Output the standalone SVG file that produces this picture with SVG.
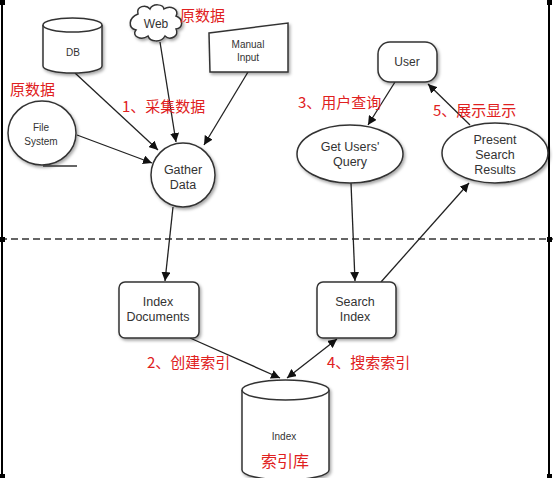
<svg xmlns="http://www.w3.org/2000/svg" width="553" height="478" viewBox="0 0 553 478">
<style>
.s{fill:#fff;stroke:#333;stroke-width:1.5}
.t{font-family:"Liberation Sans",Arial,sans-serif;fill:#333;text-anchor:middle}
.r{font-family:"Noto Sans CJK SC",sans-serif;fill:#e02020;font-size:15px}
.c{stroke:#222;stroke-width:1.3;fill:none}
</style>
<defs>
<filter id="sh" x="-20%" y="-20%" width="150%" height="150%"><feDropShadow dx="1.5" dy="2" stdDeviation="1.5" flood-color="#000" flood-opacity="0.35"/></filter>
<marker id="a" viewBox="0 0 10 10" refX="10" refY="5" markerWidth="9" markerHeight="9" orient="auto-start-reverse" markerUnits="userSpaceOnUse"><path d="M0,0L10,5L0,10z" fill="#111"/></marker>
</defs>
<g id="frame" stroke="#000">
<line x1="2" y1="0" x2="2" y2="478" stroke-width="2"/>
<line x1="549" y1="0" x2="549" y2="478" stroke-width="2"/>
<line x1="0" y1="239" x2="553" y2="239" stroke-width="1.5" stroke-dasharray="7,4" stroke="#333"/>
<g fill="#000" stroke="none">
<rect x="0" y="0" width="5" height="5"/><rect x="547" y="0" width="5" height="5"/>
<rect x="0" y="237" width="5" height="5"/><rect x="547" y="237" width="5" height="5"/>
<rect x="0" y="474" width="5" height="4"/><rect x="274" y="474" width="5" height="4"/><rect x="547" y="474" width="5" height="4"/>
</g>
</g>
<g id="connectors">
<line class="c" x1="75" y1="73" x2="158" y2="150" marker-end="url(#a)"/>
<line class="c" x1="160" y1="42" x2="176" y2="142" marker-end="url(#a)"/>
<line class="c" x1="248" y1="72" x2="204" y2="145" marker-end="url(#a)"/>
<line class="c" x1="77" y1="135" x2="152" y2="163" marker-end="url(#a)"/>
<line class="c" x1="173" y1="207" x2="165" y2="281" marker-end="url(#a)"/>
<line class="c" x1="190" y1="338" x2="280" y2="378" marker-end="url(#a)"/>
<line class="c" x1="337" y1="339" x2="287" y2="378" marker-start="url(#a)" marker-end="url(#a)"/>
<line class="c" x1="395" y1="82" x2="368" y2="125" marker-end="url(#a)"/>
<line class="c" x1="470" y1="125" x2="428" y2="84" marker-end="url(#a)"/>
<line class="c" x1="351" y1="183" x2="355" y2="281" marker-end="url(#a)"/>
<line class="c" x1="381" y1="282" x2="469" y2="183" marker-end="url(#a)"/>
</g>
<g id="db">
<path class="s" filter="url(#sh)" d="M43,25 A29.5,7 0 0 1 102,25 L102,66 A29.5,7 0 0 1 43,66 Z"/>
<path class="s" d="M43,25 A29.5,7 0 0 0 102,25"/>
<text class="t" x="73" y="56" font-size="10">DB</text>
</g>
<g id="web">
<path class="s" filter="url(#sh)" d="M138,14 C136,6 146,4 150,9 C153,3 163,4 164,9 C170,5 180,9 176,16 C184,19 183,28 176,29 C180,36 170,41 165,36 C161,43 150,42 148,36 C141,41 131,36 136,30 C128,28 128,18 138,14 Z"/>
<text class="t" x="156" y="28" font-size="12">Web</text>
</g>
<g id="manual">
<polygon class="s" filter="url(#sh)" points="209,33 288,23 288,72 210,72"/>
<text class="t" x="248" y="48" font-size="10">Manual</text>
<text class="t" x="248" y="61" font-size="10">Input</text>
</g>
<g id="filesystem">
<ellipse class="s" filter="url(#sh)" cx="42" cy="133" rx="34" ry="32"/>
<line x1="43" y1="166" x2="77" y2="166" stroke="#333" stroke-width="1.3"/>
<text class="t" x="41" y="131" font-size="10">File</text>
<text class="t" x="41" y="145" font-size="10">System</text>
</g>
<g id="gather">
<circle class="s" filter="url(#sh)" cx="183" cy="175" r="32"/>
<text class="t" x="183" y="174" font-size="12.5">Gather</text>
<text class="t" x="183" y="189" font-size="12.5">Data</text>
</g>
<g id="user">
<rect class="s" filter="url(#sh)" x="378" y="42" width="59" height="40" rx="12"/>
<text class="t" x="407" y="66" font-size="12">User</text>
</g>
<g id="getquery">
<ellipse class="s" filter="url(#sh)" cx="350" cy="154" rx="53" ry="29"/>
<text class="t" x="350" y="151" font-size="12.5">Get Users'</text>
<text class="t" x="350" y="166" font-size="12.5">Query</text>
</g>
<g id="present">
<ellipse class="s" filter="url(#sh)" cx="495" cy="153" rx="53" ry="30"/>
<text class="t" x="495" y="144" font-size="12.5">Present</text>
<text class="t" x="495" y="159" font-size="12.5">Search</text>
<text class="t" x="495" y="174" font-size="12.5">Results</text>
</g>
<g id="indexdocs">
<rect class="s" filter="url(#sh)" x="119" y="282" width="80" height="56" rx="6"/>
<text class="t" x="158" y="306" font-size="12.5">Index</text>
<text class="t" x="158" y="321" font-size="12.5">Documents</text>
</g>
<g id="searchindex">
<rect class="s" filter="url(#sh)" x="317" y="282" width="79" height="56" rx="6"/>
<text class="t" x="355" y="306" font-size="12.5">Search</text>
<text class="t" x="355" y="321" font-size="12.5">Index</text>
</g>
<g id="index">
<path class="s" filter="url(#sh)" d="M242,390 A43.5,10 0 0 1 329,390 L329,470 A43.5,10 0 0 1 242,470 Z"/>
<path class="s" d="M242,390 A43.5,10 0 0 0 329,390"/>
<text class="t" x="284" y="440" font-size="10">Index</text>
<text class="r" x="285" y="467" text-anchor="middle" style="font-size:16px">索引库</text>
</g>
<g id="labels">
<text class="r" x="180" y="21">原数据</text>
<text class="r" x="10" y="95">原数据</text>
<text class="r" x="122" y="112">1、采集数据</text>
<text class="r" x="147" y="368">2、创建索引</text>
<text class="r" x="298" y="108">3、用户查询</text>
<text class="r" x="327" y="368">4、搜索索引</text>
<text class="r" x="433" y="116">5、展示显示</text>
</g>
</svg>
